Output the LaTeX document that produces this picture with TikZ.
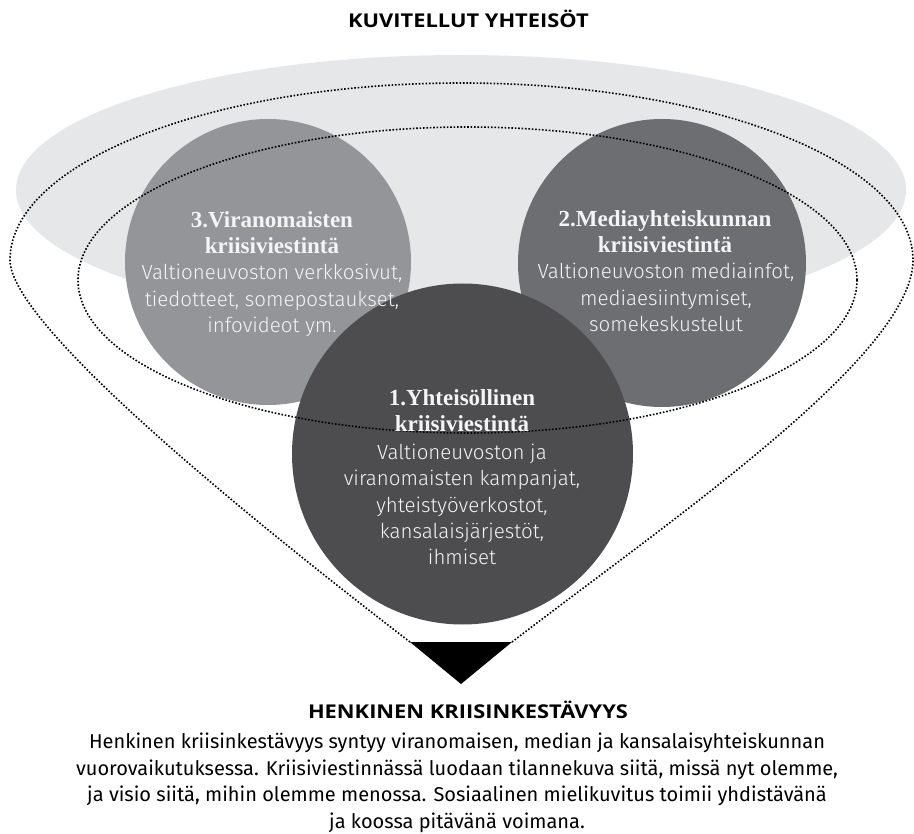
\documentclass[tikz,border=0pt]{standalone}
\usepackage{fontspec}
\setmainfont{Fira Sans}
\newfontfamily\bodylight{Fira Sans Light}
\newfontfamily\serifhead{Liberation Serif}
\newfontfamily\titlesans[FakeStretch=1.15]{Open Sans}
\definecolor{ellgrey}{HTML}{E6E7E8}
\definecolor{cthree}{HTML}{939598}
\definecolor{ctwo}{HTML}{6D6E71}
\definecolor{cone}{HTML}{4D4D4F}
\definecolor{ctext}{HTML}{F4F4F5}
\begin{document}
\begin{tikzpicture}[x=1pt,y=-1pt,
  blob/.style={circle, inner sep=0pt, draw=none},
  headtxt/.style={font=\serifhead\bfseries\fontsize{23}{26}\selectfont, text=ctext, align=center, inner sep=0pt},
  bodytxt/.style={font=\bodylight\fontsize{20.5}{26.5}\selectfont, text=ctext, align=center, inner sep=0pt},
  dotline/.style={line width=1.6pt, dash pattern=on 1.6pt off 1.8pt},
  bigtitle/.style={font=\titlesans\bfseries\fontsize{19}{21}\selectfont, inner sep=0pt},
  paratxt/.style={font=\fontsize{20}{26.6}\selectfont, align=center, inner sep=0pt}]
\useasboundingbox (0,0) rectangle (914,834);
\fill[white] (0,0) rectangle (914,834);
% light ellipse
\fill[ellgrey] (461,190) ellipse [x radius=445, y radius=135];
% circles
\node[blob, fill=cthree, minimum size=286pt] (cir3) at (268,262) {};
\node[blob, fill=ctwo, minimum size=288pt] (cir2) at (662,263) {};
\node[blob, fill=cone, minimum size=341pt] (cir1) at (462.5,454) {};
% triangle corners
\coordinate (tl) at (410,642);
\coordinate (tr) at (512,642);
\coordinate (tb) at (461,684);
% dotted funnel
\draw[dotline] (tl) .. controls (250,519) and (10,325) .. (10,260)
  arc[start angle=180, end angle=360, x radius=451.5, y radius=177]
  .. controls (913,355) and (672,519) .. (tr);
% inner dotted ellipse
\draw[dotline] (467.5,280) ellipse [x radius=389.5, y radius=153];
% triangle
\fill[black] (tl) -- (tr) -- (tb) -- cycle;
% circle texts (base anchor = last line)
\node[headtxt, anchor=base] (h3) at (272,254) {3.Viranomaisten\\kriisiviestintä};
\node[bodytxt, anchor=base] (b3) at (272,333) {Valtioneuvoston verkkosivut,\\tiedotteet, somepostaukset,\\infovideot ym.};
\node[headtxt, anchor=base] (h2) at (665,253) {2.Mediayhteiskunnan\\kriisiviestintä};
\node[bodytxt, anchor=base] (b2) at (666,332) {Valtioneuvoston mediainfot,\\mediaesiintymiset,\\somekeskustelut};
\node[headtxt, anchor=base] (h1) at (462,432) {1.Yhteisöllinen\\kriisiviestintä};
\node[bodytxt, anchor=base] (b1) at (462,565) {Valtioneuvoston ja\\viranomaisten kampanjat,\\yhteistyöverkostot,\\kansalaisjärjestöt,\\ihmiset};
% titles
\node[bigtitle, anchor=base] (ttop) at (468.5,28) {KUVITELLUT YHTEISÖT};
\node[bigtitle, anchor=base] (tbot) at (468,718) {HENKINEN KRIISINKESTÄVYYS};
\node[paratxt, anchor=base] (para) at (457,828.5) {Henkinen kriisinkestävyys syntyy viranomaisen, median ja kansalaisyhteiskunnan\\vuorovaikutuksessa. Kriisiviestinnässä luodaan tilannekuva siitä, missä nyt olemme,\\ja visio siitä, mihin olemme menossa. Sosiaalinen mielikuvitus toimii yhdistävänä\\ja koossa pitävänä voimana.};
\end{tikzpicture}
\end{document}
